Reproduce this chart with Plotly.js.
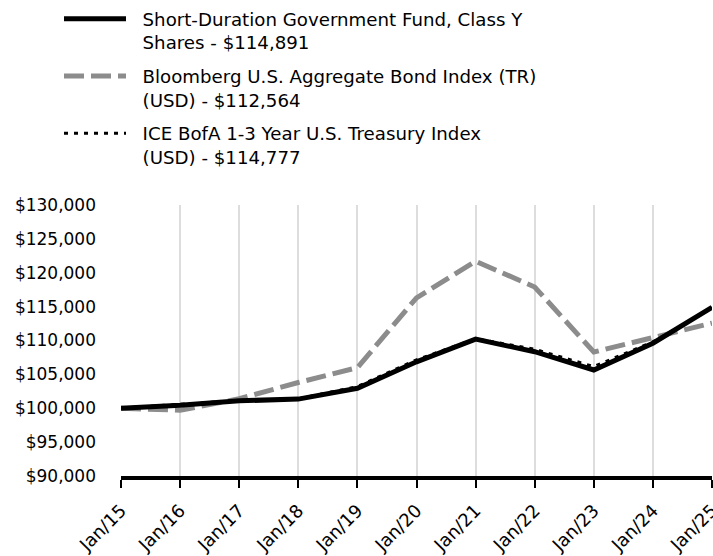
<!DOCTYPE html>
<html>
<head>
<meta charset="utf-8">
<script src="https://cdn.plot.ly/plotly-3.0.1.min.js"></script>
<style>html,body{margin:0;padding:0;background:#fff;}#chart{width:713px;height:556px;}</style>
</head>
<body>
<div id="chart"></div>
<script>
const categories = ["Jan/15","Jan/16","Jan/17","Jan/18","Jan/19","Jan/20","Jan/21","Jan/22","Jan/23","Jan/24","Jan/25"];
const fundValues = [100000,100450,101100,101350,102950,106850,110200,108350,105650,109600,114891];
const bloombergValues = [100000,99700,101400,103800,106000,116300,121700,117900,108300,110500,112564];
const iceValues = [100000,100550,101150,101400,103200,107150,110250,108700,106150,109800,114777];
const seriesNames = ["Short-Duration Government Fund, Class Y<br>Shares - $114,891",
                     "Bloomberg U.S. Aggregate Bond Index (TR)<br>(USD) - $112,564",
                     "ICE BofA 1-3 Year U.S. Treasury Index<br>(USD) - $114,777"];
const yTicks = [90000,95000,100000,105000,110000,115000,120000,125000,130000];

const FONT = "DejaVu Sans, Verdana, sans-serif";
const PAD = "\u00A0\u00A0";
function padName(n) { return n.split("<br>").map(s => PAD + s).join("<br>"); }

const traces = [
  {x: categories, y: bloombergValues, name: padName(seriesNames[1]), type: "scatter", mode: "lines",
   line: {color: "#8c8c8c", width: 5, dash: "20px,7px"}, legendrank: 2, legendgroup: "b"},
  {x: categories, y: iceValues, name: padName(seriesNames[2]), type: "scatter", mode: "lines",
   line: {color: "#000000", width: 3, dash: "4px,6px"}, legendrank: 3, legendgroup: "c"},
  {x: categories, y: fundValues, name: padName(seriesNames[0]), type: "scatter", mode: "lines",
   line: {color: "#000000", width: 5}, legendrank: 1, legendgroup: "a"}
];

const layout = {
  width: 713, height: 556,
  margin: {l: 121, r: 1, t: 205, b: 80, autoexpand: false},
  paper_bgcolor: "#ffffff", plot_bgcolor: "#ffffff",
  font: {family: FONT, size: 17, color: "#000000"},
  showlegend: true,
  legend: {
    x: -0.1049, y: 1.755, xanchor: "left", yanchor: "top",
    valign: "top", itemwidth: 62, tracegroupgap: 7,
    font: {family: FONT, size: 18.2, color: "#000000"},
    bgcolor: "rgba(0,0,0,0)", traceorder: "grouped"
  },
  xaxis: {
    type: "category", range: [0, 10], automargin: false,
    showgrid: true, gridcolor: "#dddddd", gridwidth: 2,
    showline: true, linecolor: "#000000", linewidth: 4,
    ticks: "outside", ticklen: 8, tickwidth: 2, tickcolor: "#000000",
    tickangle: -45, ticklabelstandoff: 5,
    tickfont: {family: FONT, size: 18, color: "#000000"},
    zeroline: false, fixedrange: true
  },
  yaxis: {
    range: [90000, 130000], tickvals: yTicks, tickformat: "$,.0f", automargin: false,
    showgrid: false, showline: false, zeroline: false, ticks: "",
    ticklabelstandoff: 24,
    tickfont: {family: FONT, size: 17, color: "#000000"},
    fixedrange: true
  }
};

Plotly.newPlot("chart", traces, layout, {displayModeBar: false, staticPlot: true});
</script>
</body>
</html>
